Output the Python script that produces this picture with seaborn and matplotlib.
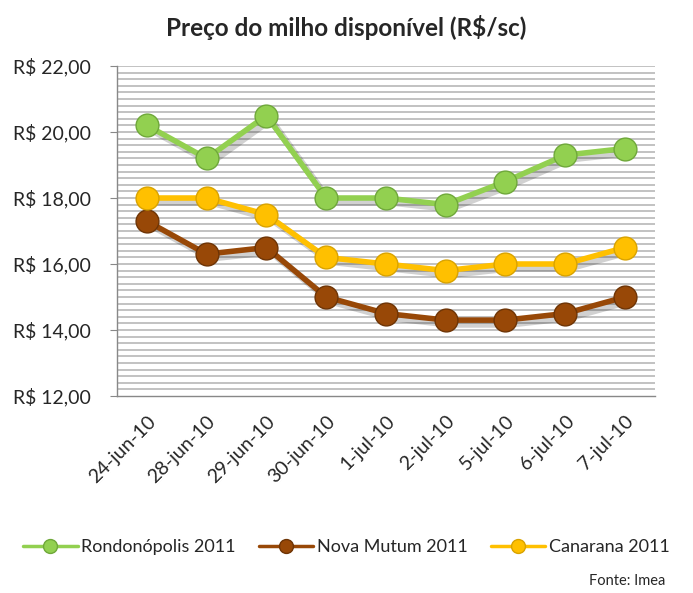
import pandas as pd
import matplotlib.pyplot as plt
import matplotlib.patheffects as pe
from matplotlib.lines import Line2D
from matplotlib.ticker import FixedLocator, MultipleLocator, FuncFormatter
import seaborn as sns

dates = ["24-jun-10", "28-jun-10", "29-jun-10", "30-jun-10", "1-jul-10",
         "2-jul-10", "5-jul-10", "6-jul-10", "7-jul-10"]
rondonopolis = [20.2, 19.2, 20.5, 18.0, 18.0, 17.8, 18.5, 19.3, 19.5]
nova_mutum = [17.3, 16.3, 16.5, 15.0, 14.5, 14.3, 14.3, 14.5, 15.0]
canarana = [18.0, 18.0, 17.5, 16.2, 16.0, 15.8, 16.0, 16.0, 16.5]

series = {
    "Rondonópolis 2011": rondonopolis,
    "Nova Mutum 2011": nova_mutum,
    "Canarana 2011": canarana,
}
colors = {
    "Rondonópolis 2011": "#92D050",
    "Nova Mutum 2011": "#984807",
    "Canarana 2011": "#FFC000",
}
edges = {
    "Rondonópolis 2011": "#6FA83A",
    "Nova Mutum 2011": "#6E3405",
    "Canarana 2011": "#D9A300",
}

rows = []
for name, vals in series.items():
    for i, v in enumerate(vals):
        rows.append({"pos": i, "value": v, "serie": name})
df = pd.DataFrame(rows)

sns.set_style("white")
plt.rcParams["font.family"] = ["Lato", "DejaVu Sans"]

fig = plt.figure(figsize=(6.93, 5.93), dpi=100)
ax = fig.add_axes([0.1688, 0.3322, 0.7762, 0.5565])

handles = []
for name in series:
    sub = df[df["serie"] == name]
    sns.lineplot(data=sub, x="pos", y="value", ax=ax, color=colors[name],
                 linewidth=4, zorder=3, legend=False,
                 path_effects=[pe.SimpleLineShadow(offset=(3, -3), alpha=0.18, linewidth=5),
                               pe.Normal()])
    sns.scatterplot(data=sub, x="pos", y="value", ax=ax, color=colors[name],
                    s=270, edgecolor=edges[name], linewidth=1, zorder=4, legend=False)
    handles.append(Line2D([0], [0], color=colors[name], linewidth=2.5, marker="o",
                          markersize=10, markerfacecolor=colors[name],
                          markeredgecolor=edges[name], label=name))

ax.set_xlim(-0.5, len(dates) - 0.5)
ax.set_ylim(12, 22)

# minor gridlines every 0.2
for y in [12 + 0.2 * k for k in range(1, 51)]:
    ax.axhline(y, color="#BDBDBD", linewidth=1.3, zorder=1)

ax.yaxis.set_major_locator(MultipleLocator(2))
ax.yaxis.set_major_formatter(FuncFormatter(lambda v, p: f"R$ {v:.2f}".replace(".", ",")))
ax.set_xticks(range(len(dates)))
ax.set_xticklabels(dates, rotation=45, ha="right", rotation_mode="anchor")
ax.xaxis.set_minor_locator(FixedLocator([i - 0.5 for i in range(len(dates) + 1)]))
ax.tick_params(axis="x", which="major", length=0, labelsize=14, pad=12)
ax.tick_params(axis="x", which="minor", length=5, color="#888888", direction="out")
ax.tick_params(axis="y", which="major", length=5, color="#888888", direction="out",
               labelsize=14, left=True, pad=14)

for s in ["top", "right"]:
    ax.spines[s].set_visible(False)
for s in ["left", "bottom"]:
    ax.spines[s].set_color("#888888")
    ax.spines[s].set_linewidth(1)

ax.set_xlabel("")
ax.set_ylabel("")
fig.suptitle("Preço do milho disponível (R$/sc)", x=0.5, y=0.975, va="top",
             fontsize=17.5, fontweight="bold")

fig.legend(handles=handles, loc="center", bbox_to_anchor=(0.5, 1 - 547 / 593), ncol=3,
           frameon=False, fontsize=13, handlelength=3.0, handletextpad=0.2,
           columnspacing=1.3)

fig.text(0.96, 0.008, "Fonte: Imea", ha="right", va="bottom", fontsize=10.5)

plt.savefig("out.png", dpi=100)
plt.close()
